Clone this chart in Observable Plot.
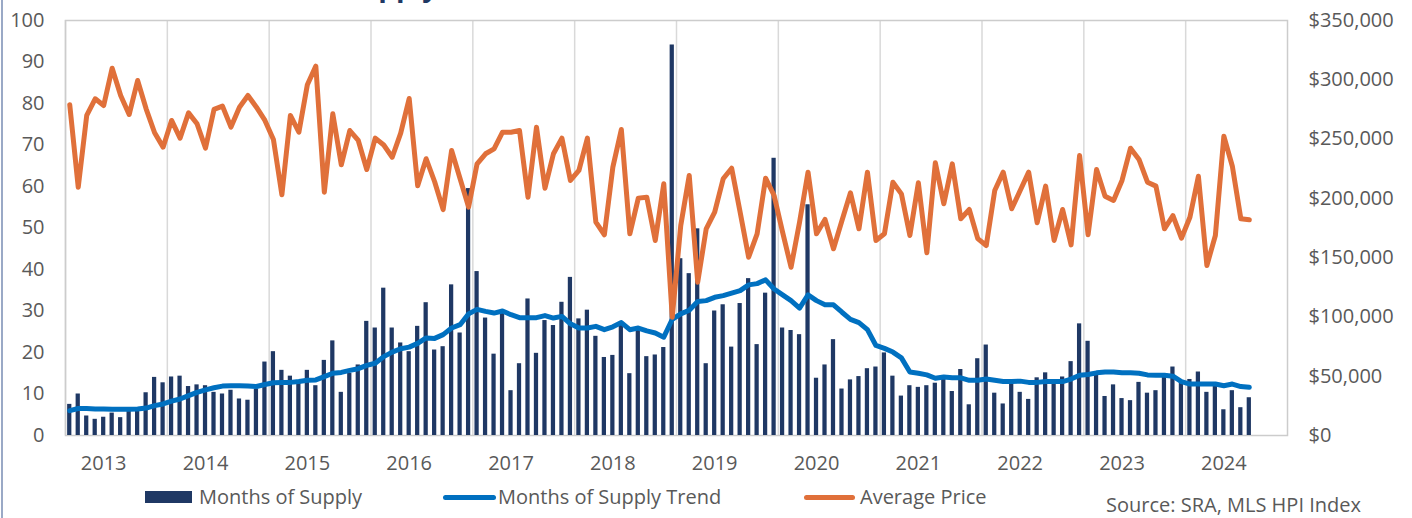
<!DOCTYPE html>
<html>
<head>
<meta charset="utf-8">
<script src="https://cdn.jsdelivr.net/npm/d3@7"></script>
<script src="https://cdn.jsdelivr.net/npm/@observablehq/plot@0.6"></script>
<style>
  html, body { margin: 0; padding: 0; background: #fff; }
  #wrap { position: relative; width: 1412px; height: 518px; overflow: hidden; font-family: "Open Sans", sans-serif; color: #595959; }
  #frameLeft { position: absolute; left: 1px; top: 0; width: 2px; height: 518px; background: #9aa9c6; }
  #title { position: absolute; left: 195px; top: 0; height: 4px; width: 400px; overflow: hidden; }
  #title span { position: absolute; left: 0; top: -29px; font: bold 28px/28px "Open Sans", sans-serif; color: #1f3864; white-space: nowrap; }
  .lg { position: absolute; font-size: 20px; line-height: 24px; white-space: nowrap; color: #595959; }
  .sw { position: absolute; }
</style>
</head>
<body>
<div id="wrap">
  <div id="frameLeft"></div>
  <div id="title"><span>Months of Supply</span></div>
  <div id="chart"></div>
  <div class="sw" style="left:145px;top:491px;width:47px;height:12px;background:#1f3864"></div>
  <div class="lg" style="left:199px;top:485px">Months of Supply</div>
  <div class="sw" style="left:443px;top:495px;width:53px;height:5px;border-radius:3px;background:#0070c0"></div>
  <div class="lg" style="left:498px;top:485px">Months of Supply Trend</div>
  <div class="sw" style="left:804px;top:495px;width:51px;height:5px;border-radius:3px;background:#e0703a"></div>
  <div class="lg" style="left:860px;top:485px">Average Price</div>
  <div class="lg" style="left:1106px;top:493px">Source: SRA, MLS HPI Index</div>
</div>
<script>
// Monthly series, Sep 2012 – Apr 2024
const startMonth = "2012-09-01";
const supply = [7.5,10.0,4.7,3.9,4.4,5.4,4.3,6.0,6.1,10.3,14.0,12.7,14.1,14.3,11.8,12.2,12.0,10.4,10.0,10.9,
  8.8,8.5,11.2,17.7,20.2,15.7,14.3,12.8,15.7,12.0,18.1,22.8,10.4,15.0,17.0,27.5,25.9,35.5,25.9,22.3,
  20.2,26.3,32.0,20.6,21.4,36.3,24.7,59.5,39.5,28.3,19.6,30.0,10.8,17.3,32.9,19.8,27.7,26.5,32.1,38.1,
  28.1,30.2,23.9,18.8,19.3,27.3,14.9,26.0,19.0,19.4,21.2,94.1,42.6,39.0,49.8,17.3,30.0,31.5,21.3,31.8,
  37.8,21.9,34.3,66.8,25.9,25.3,24.3,55.6,13.8,17.0,23.1,11.2,13.4,14.2,16.1,16.5,19.9,14.3,9.5,12.0,
  11.6,12.0,12.6,14.3,10.6,15.9,7.4,18.5,21.8,10.2,7.6,12.6,10.4,8.7,13.9,15.1,13.3,14.1,17.8,26.9,
  22.7,14.5,9.4,12.2,8.9,8.4,12.8,10.2,10.8,14.0,16.5,12.8,13.5,15.3,10.4,12.0,6.2,10.8,6.7,9.1];
const trend = [6.0,6.5,6.5,6.4,6.4,6.3,6.3,6.3,6.4,6.6,7.2,7.6,8.3,8.8,9.6,10.4,11.0,11.5,11.9,12.0,
  12.0,11.9,11.8,12.3,12.7,12.8,12.8,13.0,13.3,13.4,14.2,15.0,15.2,15.7,16.1,16.9,17.4,19.0,20.1,20.9,
  21.3,22.2,23.5,23.4,24.3,25.9,26.7,29.3,30.4,29.9,29.5,30.0,29.1,28.4,28.4,28.4,28.9,28.3,28.7,26.9,
  25.9,25.9,26.3,25.5,26.2,27.2,25.5,25.9,25.2,24.7,23.7,28.0,29.3,30.2,32.3,32.5,33.3,33.7,34.3,34.9,
  36.3,36.6,37.5,35.3,33.9,32.5,30.7,33.9,32.5,31.5,31.5,29.7,28.0,27.2,25.5,21.7,21.0,20.1,18.7,15.3,
  15.0,14.6,13.8,14.1,13.9,13.9,13.3,13.3,13.6,13.3,13.0,13.0,13.1,12.8,12.8,13.0,13.0,13.0,13.6,14.5,
  14.7,15.1,15.3,15.3,15.1,15.1,15.0,14.6,14.5,14.5,14.3,13.0,12.4,12.4,12.4,12.4,12.0,12.4,11.8,11.6];
const price = [278900,209400,269900,284000,278300,309800,286800,270700,299400,275500,
  255300,243200,265700,250800,272100,262900,242400,275000,277800,260100,
  276900,286800,276900,265700,249700,203000,269900,255800,295800,311500,
  205200,271300,228300,257200,248800,224300,250800,245000,234700,255000,
  284200,210600,233400,214000,190500,240400,216500,192600,229100,237600,
  241800,255800,255800,257200,201000,260000,208600,237600,250800,215100,
  223500,250800,179900,169300,226300,258100,170100,200200,201000,164500,
  212300,99800,177100,219300,129300,174300,188300,216500,225400,188300,
  150400,170100,217000,202400,171500,141900,179900,222100,170100,182200,
  157500,181300,204700,174300,222100,164500,170100,213600,203800,168700,
  213100,154100,230000,195400,229100,182800,190600,166000,160200,206600,
  222100,191200,206600,222100,179400,210300,164500,190600,160800,236200,
  169300,224300,201800,198200,215100,242300,232800,213600,210300,174300,
  185500,166400,184100,218700,143400,168700,252400,227100,182800,181900];
const supplyTicks = [0,10,20,30,40,50,60,70,80,90,100];
const priceTicks = [0,50000,100000,150000,200000,250000,300000,350000];
const yearLabels = ["2013","2014","2015","2016","2017","2018","2019","2020","2021","2022","2023","2024"];

const priceMax = 350000, supplyMax = 100;
const k = priceMax / supplyMax;
const fmtM = d3.utcFormat("%Y-%m");
const start = new Date(startMonth);
// 12 yearly blocks of 12 monthly slots (Sep–Aug)
const slots = d3.utcMonth.range(start, d3.utcMonth.offset(start, yearLabels.length * 12)).map(fmtM);
const rows = supply.map((v, i) => ({m: slots[i], supply: v, trend: trend[i], price: price[i]}));
const janSlots = slots.filter(s => s.endsWith("-01"));
const sepSlots = slots.filter(s => s.endsWith("-09"));

const W = 1412, H = 480, ml = 65, mr = 125, mt = 20, mb = 45;
const step = (W - ml - mr) / slots.length;

const chart = Plot.plot({
  width: W, height: H,
  marginLeft: ml, marginRight: mr, marginTop: mt, marginBottom: mb,
  style: {fontFamily: "'Open Sans', sans-serif", fontSize: "20px", color: "#595959", background: "transparent", overflow: "visible"},
  x: {type: "band", domain: slots, paddingInner: 0.5, paddingOuter: 0.25, label: null},
  y: {domain: [0, supplyMax], label: null},
  marks: [
    Plot.ruleX(sepSlots, {x: d => d, dx: -step / 2, stroke: "#d9d9d9", strokeWidth: 1.5}),
    Plot.frame({stroke: "#cccccc", strokeWidth: 1.5}),
    Plot.barY(rows, {x: "m", y: "supply", fill: "#1f3864"}),
    Plot.lineY(rows, {x: "m", y: "trend", stroke: "#0070c0", strokeWidth: 5, strokeLinejoin: "round", strokeLinecap: "round"}),
    Plot.lineY(rows, {x: "m", y: d => d.price / k, stroke: "#e0703a", strokeWidth: 5, strokeLinejoin: "round", strokeLinecap: "round"}),
    Plot.axisY({anchor: "left", ticks: supplyTicks, tickSize: 0, tickPadding: 21, label: null}),
    Plot.axisY({anchor: "right", ticks: priceTicks.map(p => p / k), tickFormat: v => "$" + d3.format(",")(Math.round(v * k)), tickSize: 0, tickPadding: 21, label: null}),
    Plot.axisX({ticks: janSlots, tickFormat: s => yearLabels[janSlots.indexOf(s)], tickSize: 0, tickPadding: 20, label: null})
  ]
});
document.getElementById("chart").appendChild(chart);
</script>
</body>
</html>
